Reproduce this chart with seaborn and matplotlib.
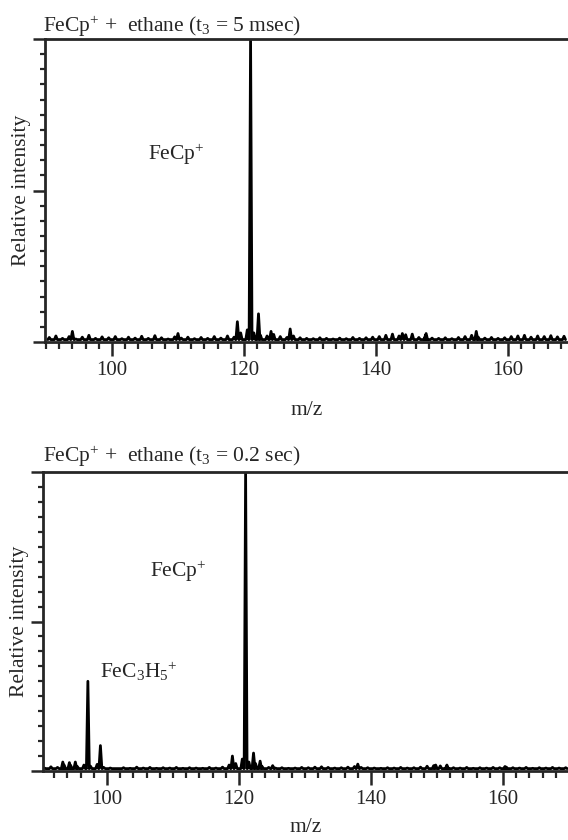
import matplotlib
matplotlib.use('Agg')
import pandas as pd
import matplotlib.pyplot as plt
from matplotlib.ticker import MultipleLocator
import seaborn as sns

# Baseline noise blips, one every m/z unit starting at 90.5
top_noise_start = 90.5
top_noise = [0.015, 0.020, 0.012, 0.018, 0.010, 0.016, 0.022, 0.012, 0.017, 0.014,
             0.018, 0.011, 0.016, 0.013, 0.019, 0.012, 0.021, 0.014, 0.010, 0.017,
             0.013, 0.016, 0.011, 0.015, 0.012, 0.018, 0.013, 0.020, 0.016, 0.030,
             0.040, 0.030, 0.022, 0.020, 0.025, 0.018, 0.015, 0.020, 0.014, 0.012,
             0.011, 0.014, 0.012, 0.010, 0.013, 0.011, 0.015, 0.012, 0.014, 0.016,
             0.018, 0.022, 0.026, 0.020, 0.024, 0.026, 0.015, 0.022, 0.013, 0.012,
             0.014, 0.011, 0.015, 0.018, 0.022, 0.016, 0.013, 0.015, 0.012, 0.014,
             0.018, 0.020, 0.022, 0.016, 0.020, 0.018, 0.021, 0.017, 0.019]
# Real peaks, t3 = 5 msec
top_mz = [94.0, 110.0, 119.0, 121.0, 122.2, 124.1, 127.0, 144.0, 147.6, 155.2]
top_int = [0.035, 0.028, 0.067, 1.0, 0.093, 0.035, 0.043, 0.028, 0.028, 0.035]

bot_noise_start = 90.5
bot_noise = [0.010, 0.014, 0.012, 0.020, 0.018, 0.015, 0.020, 0.016, 0.022, 0.012,
             0.010, 0.008, 0.011, 0.009, 0.013, 0.010, 0.012, 0.009, 0.011, 0.010,
             0.012, 0.009, 0.011, 0.010, 0.009, 0.012, 0.010, 0.013, 0.020, 0.025,
             0.040, 0.030, 0.025, 0.015, 0.012, 0.010, 0.011, 0.009, 0.010, 0.012,
             0.011, 0.013, 0.014, 0.012, 0.010, 0.011, 0.013, 0.015, 0.012, 0.011,
             0.010, 0.009, 0.011, 0.010, 0.012, 0.010, 0.011, 0.013, 0.016, 0.018,
             0.017, 0.015, 0.011, 0.010, 0.012, 0.009, 0.011, 0.010, 0.012, 0.011,
             0.013, 0.011, 0.010, 0.012, 0.009, 0.011, 0.010, 0.012, 0.010, 0.011]
# Real peaks, t3 = 0.2 sec
bot_mz = [93.3, 94.3, 95.2, 97.1, 99.0, 119.0, 121.0, 122.2, 123.2, 125.1, 138.0, 149.8, 151.5, 160.3]
bot_int = [0.030, 0.028, 0.030, 0.30, 0.085, 0.050, 1.0, 0.060, 0.033, 0.018, 0.023, 0.020, 0.020, 0.015]

sns.set_style('ticks')
plt.rcParams['font.family'] = ['Liberation Serif', 'DejaVu Serif']
plt.rcParams['mathtext.fontset'] = 'custom'
plt.rcParams['mathtext.rm'] = 'Liberation Serif'
plt.rcParams['mathtext.it'] = 'Liberation Serif:italic'

FS = 15.5


def profile(noise_start, noise, mz, inten, hw=0.22, floor=0.008):
    # each peak drawn as a narrow stick on the baseline
    centres = [noise_start + i for i in range(len(noise))] + list(mz)
    heights = list(noise) + list(inten)
    pts = []
    for c, h in sorted(zip(centres, heights)):
        pts += [(c - hw, floor), (c, h), (c + hw, floor)]
    return pd.DataFrame(pts, columns=['mz', 'intensity'])


def style_axis(ax, xlim, xpad):
    ax.set_xlim(*xlim)
    ax.set_ylim(0, 1.0)
    ax.xaxis.set_major_locator(MultipleLocator(20))
    ax.xaxis.set_minor_locator(MultipleLocator(2))
    ax.yaxis.set_major_locator(MultipleLocator(0.5))
    ax.yaxis.set_minor_locator(MultipleLocator(0.05))
    ax.tick_params(axis='x', which='major', direction='out', length=10, width=1.8, labelsize=15, pad=4)
    ax.tick_params(axis='x', which='minor', direction='out', length=5, width=1.6)
    ax.tick_params(axis='y', which='major', direction='out', length=9, width=1.8, labelleft=False)
    ax.tick_params(axis='y', which='minor', direction='out', length=3.5, width=1.6)
    for s in ['left', 'bottom', 'top']:
        ax.spines[s].set_linewidth(2.0)
    ax.spines['right'].set_visible(False)
    ax.set_xlabel('m/z', fontsize=FS, labelpad=xpad)
    ax.set_ylabel('Relative intensity', fontsize=FS, labelpad=1)


fig = plt.figure(figsize=(5.68, 8.4), dpi=100)
ax1 = fig.add_axes([45 / 568, 498 / 840, 1 - 45 / 568, 303 / 840])
ax2 = fig.add_axes([43 / 568, 69 / 840, 1 - 43 / 568, 299 / 840])

df1 = profile(top_noise_start, top_noise, top_mz, top_int)
sns.lineplot(data=df1, x='mz', y='intensity', ax=ax1, color='black', linewidth=2.0,
             estimator=None, sort=False)
style_axis(ax1, (89.85, 169.1), 15)
ax1.set_title(r'FeCp$^{+}$ +  ethane (t$_{3}$ = 5 msec)', loc='left', fontsize=FS, pad=5, x=-0.004)
ax1.text(105.5, 0.60, r'FeCp$^{+}$', fontsize=FS)

df2 = profile(bot_noise_start, bot_noise, bot_mz, bot_int)
sns.lineplot(data=df2, x='mz', y='intensity', ax=ax2, color='black', linewidth=2.0,
             estimator=None, sort=False)
style_axis(ax2, (90.3, 169.85), 6)
ax2.set_title(r'FeCp$^{+}$ +  ethane (t$_{3}$ = 0.2 sec)', loc='left', fontsize=FS, pad=7)
ax2.text(106.5, 0.65, r'FeCp$^{+}$', fontsize=FS)
ax2.text(99.0, 0.31, r'FeC$_{3}$H$_{5}$$^{+}$', fontsize=FS)

fig.savefig('out.png', dpi=100)
